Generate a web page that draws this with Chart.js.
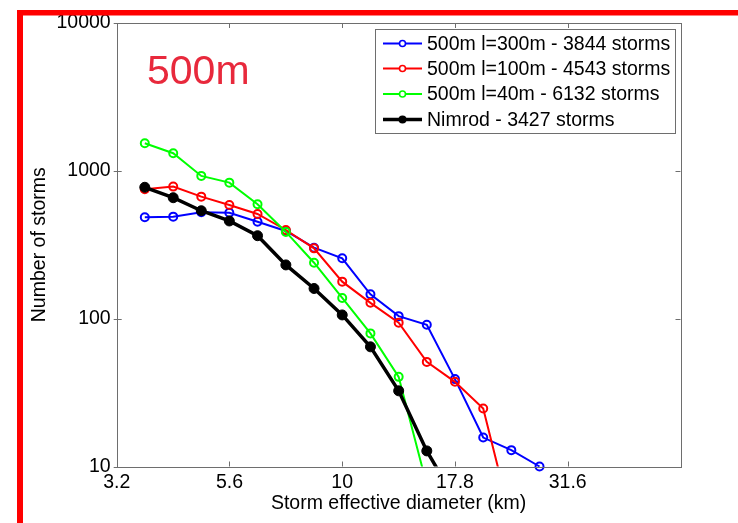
<!DOCTYPE html>
<html>
<head>
<meta charset="utf-8">
<script src="https://cdn.jsdelivr.net/npm/chart.js@4.4.1/dist/chart.umd.min.js"></script>
<style>
html,body{margin:0;padding:0;background:#fff;}
#wrap{position:relative;width:738px;height:523px;}
</style>
</head>
<body>
<div id="wrap"><canvas id="c" width="738" height="523"></canvas></div>
<script>
// ---- data ----
const diameters = [3.65, 4.22, 4.87, 5.62, 6.49, 7.50, 8.66, 10.0, 11.55, 13.34, 15.40, 17.78, 20.54, 23.71, 27.38];
const l300 = [485, 490, 525, 521, 453, 392, 302, 256, 146, 104, 91, 39, 15.7, 12.9, 10];
const l100 = [750, 782, 669, 588, 511, 398, 299, 178, 128, 94, 51, 37.4, 24.7, 4.3];
const l40 = [1538, 1316, 924, 832, 594, 386, 239, 138, 79.5, 40.4, 7.5];
const nimrod = [774, 658, 537, 458, 364, 231, 160, 106, 64.5, 32.5, 12.75, 6];
const seriesLabels = ['500m l=300m - 3844 storms', '500m l=100m - 4543 storms', '500m l=40m - 6132 storms', 'Nimrod - 3427 storms'];
const xTickValues = [3.1623, 5.6234, 10, 17.783, 31.623];
const xTickLabels = ['3.2', '5.6', '10', '17.8', '31.6'];
const yTickValues = [10, 100, 1000, 10000];
const yTickLabels = ['10', '100', '1000', '10000'];
const xMin = 3.1623, xMax = 56.234, yMin = 10, yMax = 10000;
const panelLabel = '500m';

const FONT = '"Liberation Sans", Arial, Helvetica, sans-serif';
const FS = 19.5;
const pts = (vals) => vals.map((v, i) => ({x: diameters[i], y: v}));

function ds(label, vals, color, opts) {
  return Object.assign({
    label: label, data: pts(vals), borderColor: color, backgroundColor: '#fff',
    pointBackgroundColor: '#ffffff00', pointBorderColor: color,
    borderWidth: 2, pointRadius: 4, pointBorderWidth: 2, pointHoverRadius: 4,
    tension: 0, fill: false
  }, opts || {});
}

const datasets = [
  ds(seriesLabels[0], l300, '#0000ff', {order: 4, clip: false}),
  ds(seriesLabels[1], l100, '#ff0000', {order: 3}),
  ds(seriesLabels[2], l40, '#00ff00', {order: 2}),
  ds(seriesLabels[3], nimrod, '#000000', {order: 1, borderWidth: 3.5, pointRadius: 5, pointBackgroundColor: '#000', pointBorderWidth: 1})
];

const decor = {
  id: 'decor',
  beforeDraw(chart) {
    const ctx = chart.ctx;
    ctx.save();
    ctx.fillStyle = '#fff';
    ctx.fillRect(0, 0, chart.width, chart.height);
    ctx.restore();
  },
  afterDatasetsDraw(chart) {
    const ctx = chart.ctx, a = chart.chartArea;
    const xs = chart.scales.x, ys = chart.scales.y;
    ctx.save();
    // axis box
    ctx.strokeStyle = '#6e6e6e';
    ctx.lineWidth = 1;
    ctx.strokeRect(Math.round(a.left) + 0.5, Math.round(a.top) + 0.5, Math.round(a.right - a.left), Math.round(a.bottom - a.top));
    // inward ticks
    const tl = 5;
    ctx.beginPath();
    xTickValues.forEach(v => {
      const px = Math.round(xs.getPixelForValue(v)) + 0.5;
      ctx.moveTo(px, a.bottom); ctx.lineTo(px, a.bottom - tl);
      ctx.moveTo(px, a.top); ctx.lineTo(px, a.top + tl);
    });
    yTickValues.forEach(v => {
      const py = Math.round(ys.getPixelForValue(v)) + 0.5;
      ctx.moveTo(a.left - 3, py); ctx.lineTo(a.left + tl, py);
      ctx.moveTo(a.right, py); ctx.lineTo(a.right - tl, py);
    });
    ctx.stroke();

    // legend box
    const lx = 375.5, ly = 29.5, lw = 300, lh = 104;
    ctx.fillStyle = '#fff';
    ctx.fillRect(lx, ly, lw, lh);
    ctx.strokeStyle = '#6e6e6e';
    ctx.strokeRect(lx, ly, lw, lh);
    const rows = [43.5, 68.5, 94, 119.5];
    chart.data.datasets.forEach((d, i) => {
      const y = rows[i];
      ctx.strokeStyle = d.borderColor;
      ctx.lineWidth = i === 3 ? 3.5 : 2;
      ctx.beginPath(); ctx.moveTo(383, y); ctx.lineTo(422, y); ctx.stroke();
      ctx.beginPath();
      ctx.arc(402.5, y, i === 3 ? 4 : 3, 0, Math.PI * 2);
      if (i === 3) { ctx.fillStyle = '#000'; ctx.fill(); }
      else { ctx.fillStyle = '#fff'; ctx.fill(); ctx.lineWidth = 1.6; ctx.stroke(); }
      ctx.fillStyle = '#000';
      ctx.font = FS + 'px ' + FONT;
      ctx.textBaseline = 'middle';
      ctx.textAlign = 'left';
      ctx.fillText(d.label, 427, y + 1);
    });

    // panel label
    ctx.fillStyle = '#e8293c';
    ctx.font = '41px ' + FONT;
    ctx.textBaseline = 'alphabetic';
    ctx.fillText(panelLabel, 147, 84);

    // red slide frame
    ctx.fillStyle = '#ff0000';
    ctx.fillRect(17, 10, chart.width - 17, 5.5);
    ctx.fillRect(17, 10, 6, chart.height - 10);
    ctx.restore();
  }
};

new Chart(document.getElementById('c'), {
  type: 'line',
  data: {datasets: datasets},
  options: {
    responsive: false,
    animation: false,
    devicePixelRatio: 1,
    layout: {padding: {left: 0, top: 23, right: 57.5, bottom: 0}},
    plugins: {legend: {display: false}, tooltip: {enabled: false}},
    scales: {
      x: {
        type: 'logarithmic', min: xMin, max: xMax,
        afterBuildTicks: (s) => { s.ticks = xTickValues.map(v => ({value: v})); },
        afterFit: (s) => { s.height = 56.5; },
        grid: {display: false, drawTicks: false, tickLength: 0},
        border: {display: false},
        ticks: {
          color: '#000', font: {family: FONT, size: FS}, padding: 4, maxRotation: 0, autoSkip: false,
          callback: (v, i) => xTickLabels[i]
        },
        title: {display: true, text: 'Storm effective diameter (km)', color: '#000', font: {family: FONT, size: FS}, padding: {top: 0, bottom: 8}}
      },
      y: {
        type: 'logarithmic', min: yMin, max: yMax,
        afterBuildTicks: (s) => { s.ticks = yTickValues.map(v => ({value: v})); },
        afterFit: (s) => { s.width = 116.7; },
        grid: {display: false, drawTicks: false, tickLength: 0},
        border: {display: false},
        ticks: {
          color: '#000', font: {family: FONT, size: FS}, padding: 6, autoSkip: false,
          callback: (v, i) => yTickLabels[i]
        },
        title: {display: true, text: 'Number of storms', color: '#000', font: {family: FONT, size: FS}, padding: {top: 28, bottom: 0}}
      }
    }
  },
  plugins: [decor]
});
</script>
</body>
</html>
